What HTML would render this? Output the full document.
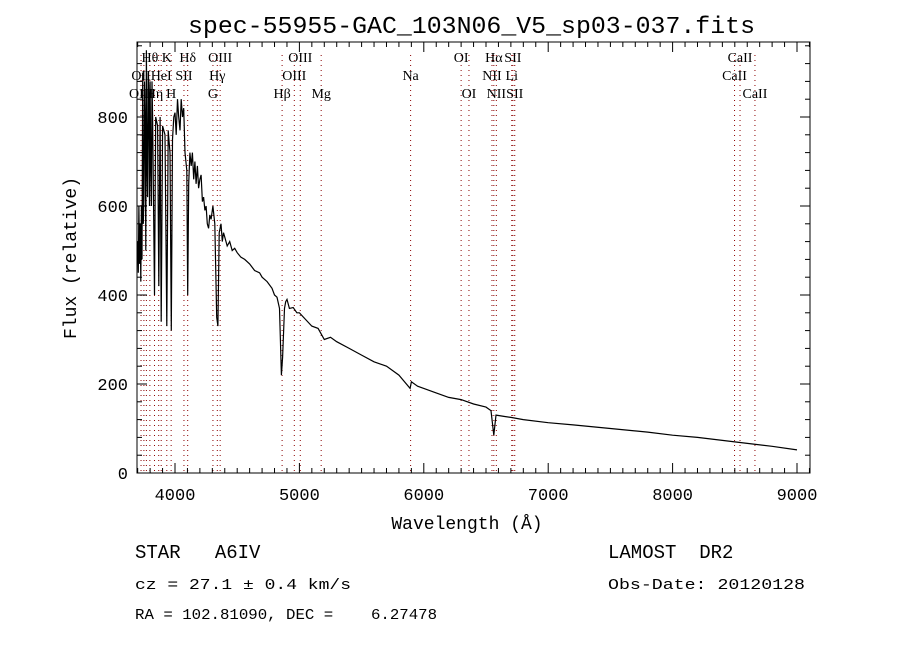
<!DOCTYPE html>
<html><head><meta charset="utf-8"><style>
body{margin:0;background:#fff}
svg{display:block}
text{font-family:"Liberation Serif",serif;fill:#000}
.m{font-family:"Liberation Mono",monospace}
</style></head><body>
<svg id="c" width="900" height="650" viewBox="0 0 900 650" xmlns="http://www.w3.org/2000/svg">
<rect width="900" height="650" fill="#fff"/>
<text x="188" y="33" font-size="24" class="m" textLength="567" lengthAdjust="spacingAndGlyphs">spec-55955-GAC_103N06_V5_sp03-037.fits</text>
<g id="lines"></g>
<g id="ticks"></g>
<defs><clipPath id="clip"><rect x="137" y="42" width="673" height="431"/></clipPath></defs>
<polyline id="spec" fill="none" stroke="#000" stroke-width="1.2" clip-path="url(#clip)"/>
<rect x="137" y="42" width="673" height="431" fill="none" stroke="#000" stroke-width="1"/>
<text class="m" font-size="18" transform="translate(76,258) rotate(-90)" text-anchor="middle">Flux (relative)</text>
<text class="m" font-size="18" x="467" y="529" text-anchor="middle">Wavelength (Å)</text>
<text class="m" font-size="19" x="135" y="558" xml:space="preserve">STAR   A6IV</text>
<text class="m" font-size="19" x="608" y="558" xml:space="preserve">LAMOST  DR2</text>
<text class="m" font-size="15" x="135" y="589" textLength="216" lengthAdjust="spacingAndGlyphs">cz = 27.1 ± 0.4 km/s</text>
<text class="m" font-size="15" x="608" y="589" textLength="197" lengthAdjust="spacingAndGlyphs">Obs-Date: 20120128</text>
<text class="m" font-size="15" x="135" y="619" textLength="302" lengthAdjust="spacingAndGlyphs" xml:space="preserve">RA = 102.81090, DEC =    6.27478</text>
</svg>
<script>
const wavelengths=[3700,3705,3710,3715,3720,3725,3730,3735,3740,3745,3750,3755,3760,3765,3770,3775,3780,3785,3790,3795,3800,3805,3810,3815,3820,3835,3845,3860,3870,3880,3889,3900,3920,3934,3945,3960,3970,3980,3990,4000,4010,4020,4030,4040,4050,4060,4070,4080,4095,4102,4110,4120,4130,4140,4150,4160,4170,4180,4190,4200,4210,4220,4230,4240,4250,4260,4270,4280,4290,4305,4320,4335,4345,4355,4370,4380,4390,4400,4420,4440,4460,4480,4500,4530,4560,4600,4640,4680,4700,4740,4780,4800,4820,4840,4855,4865,4880,4890,4900,4920,4950,4980,5000,5050,5100,5150,5200,5250,5300,5400,5500,5600,5700,5800,5890,5900,5950,6000,6100,6200,6300,6400,6500,6540,6563,6580,6650,6700,6800,7000,7200,7500,7800,8000,8200,8500,8800,9000];
const flux=[520,450,600,470,560,430,600,480,900,560,620,880,800,500,950,700,620,900,850,600,880,700,600,880,800,400,800,780,420,800,340,780,760,330,770,720,320,750,800,810,760,840,800,770,840,800,820,720,680,400,650,720,690,720,660,700,650,690,640,660,670,610,620,590,600,560,550,580,570,600,560,350,330,540,560,520,540,530,510,520,500,505,495,485,480,470,455,450,440,430,415,400,395,370,220,260,370,385,390,370,372,360,360,345,330,325,300,305,295,280,265,250,240,220,190,205,195,190,180,170,165,155,148,140,85,130,127,125,120,113,108,100,92,85,80,70,60,52];
const lineWaves=[3727,3750,3770,3798,3835,3869,3889,3934,3969,4072,4102,4305,4340,4363,4861,4959,5007,5175,5894,6300,6363,6548,6563,6583,6707,6716,6731,8498,8542,8662];
const labelText=["Hθ","K","Hδ","OIII","OIII","OI","Hα","SII","CaII","OII","HeI","SII","Hγ","OIII","Na","NII","Li","CaII","OIII","Hη","H","G","Hβ","Mg","OI","NII","SII","CaII"];
const labelWave=[3798,3934,4102,4363,5007,6300,6563,6716,8542,3727,3889,4072,4340,4959,5894,6548,6707,8498,3727,3835,3969,4305,4861,5175,6363,6583,6731,8662];
const labelRow=[0,0,0,0,0,0,0,0,0,1,1,1,1,1,1,1,1,1,2,2,2,2,2,2,2,2,2,2];
const xTicks=[4000,5000,6000,7000,8000,9000];
const yTicks=[0,200,400,600,800];
const NS="http://www.w3.org/2000/svg";
const X=w=>175+(w-4000)*0.1244;
const Y=f=>473-f*0.445;
function mk(t,a,p){const e=document.createElementNS(NS,t);for(const k in a)e.setAttribute(k,a[k]);p.appendChild(e);return e;}
const lg=document.getElementById('lines');
lineWaves.forEach(w=>{const l=mk('line',{x1:X(w),x2:X(w),y1:55,y2:473,stroke:'#8b0000','stroke-width':1,'stroke-dasharray':'1,4'},lg);

});
labelText.forEach((t,i)=>{const e=mk('text',{x:X(labelWave[i]),y:62+labelRow[i]*18,'font-size':14,'text-anchor':'middle'},lg);e.textContent=t;

});
const tg=document.getElementById('ticks');
for(let w=3700;w<=9100;w+=100){const L=(w%1000===0)?10:5;
mk('line',{x1:X(w),x2:X(w),y1:473,y2:473-L,stroke:'#000'},tg);mk('line',{x1:X(w),x2:X(w),y1:42,y2:42+L,stroke:'#000'},tg);}
for(let f=0;f<=960;f+=40){const L=(f%200===0)?10:5;
mk('line',{x1:137,x2:137+L,y1:Y(f),y2:Y(f),stroke:'#000'},tg);mk('line',{x1:810,x2:810-L,y1:Y(f),y2:Y(f),stroke:'#000'},tg);}
xTicks.forEach(w=>{const e=mk('text',{x:X(w),y:500,'font-size':17,'text-anchor':'middle',class:'m'},tg);e.textContent=w;

});
yTicks.forEach(f=>{const e=mk('text',{x:128,y:Y(f)+6,'font-size':17,'text-anchor':'end',class:'m'},tg);e.textContent=f;

});
document.getElementById('spec').setAttribute('points',wavelengths.map((w,i)=>X(w).toFixed(1)+','+Y(flux[i]).toFixed(1)).join(' '));
</script>
</body></html>
